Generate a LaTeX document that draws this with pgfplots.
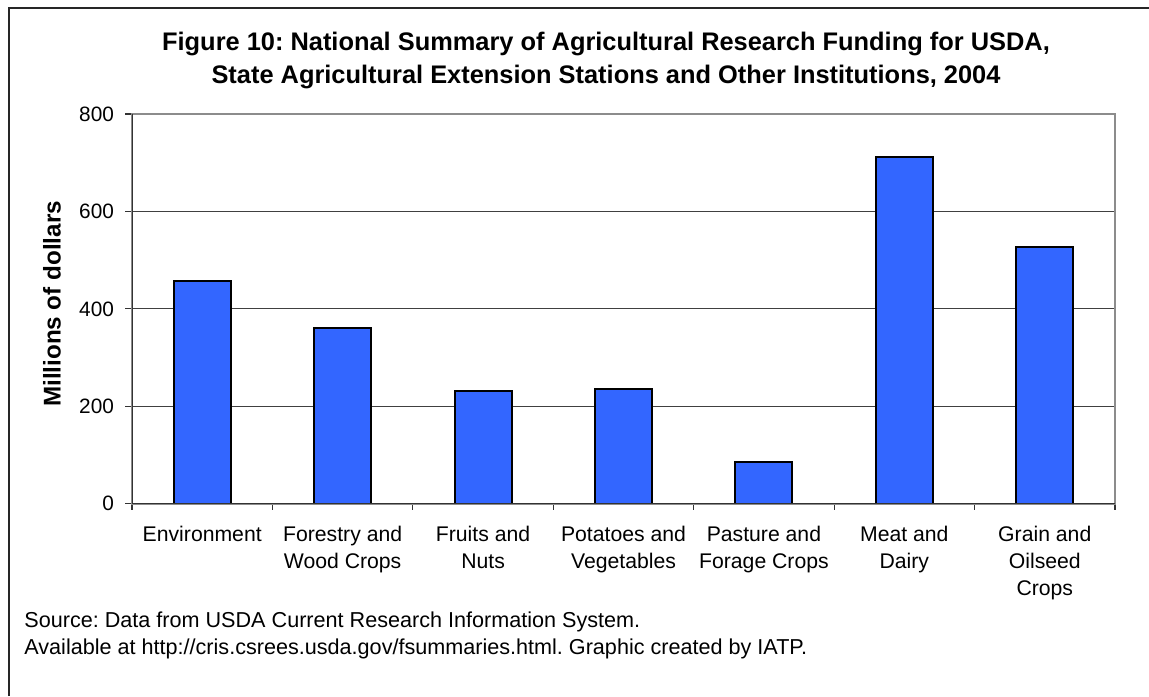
\documentclass[border=0pt]{standalone}
\usepackage{fontspec}
\setmainfont{Liberation Sans}
\usepackage{pgfplots}
\pgfplotsset{compat=1.18}
\definecolor{barblue}{HTML}{3366FF}
\definecolor{boxgray}{HTML}{8C8C8C}
\frenchspacing

\begin{document}
\begin{tikzpicture}[x=0.5pt,y=0.5pt]
% canvas measured in half points: 1149 x 696
\path[use as bounding box] (0,0) rectangle (1149,696);
\draw[line width=0.9pt, black!85] (9,0) -- (9,688) -- (1149,688);

\node[font=\fontsize{12.7}{16.5}\selectfont\bfseries, align=center]
  at (606,635.5) {Figure 10: National Summary of Agricultural Research Funding for USDA,\\
  State Agricultural Extension Stations and Other Institutions, 2004};

\node[font=\fontsize{12.1}{14}\selectfont\bfseries, rotate=90] at (52,392) {Millions of dollars};

\node[font=\fontsize{10.8}{13.4}\selectfont, align=left, anchor=west, inner sep=0pt] at (24,60.5)
  {Source: Data from USDA Current Research Information System.\\
   Available at http://cris.csrees.usda.gov/fsummaries.html. Graphic created by IATP.};

\begin{axis}[
  at={(66pt,96.15pt)}, anchor=south west,
  scale only axis, width=491.5pt, height=194.85pt,
  xmin=-0.5, xmax=6.5, ymin=0, ymax=800,
  ytick={0,200,...,800},
  xtick={0,...,6},
  xticklabels={Environment,
    Forestry and\\Wood Crops,
    Fruits and\\Nuts,
    Potatoes and\\Vegetables,
    Pasture and\\Forage Crops,
    Meat and\\Dairy,
    Grain and\\Oilseed\\Crops},
  minor xtick={-0.5,0.5,...,6.5},
  major x tick style={draw=none},
  tick align=outside, tick pos=left,
  major tick length=3.5pt, minor tick length=3pt,
  tick style={black!80, line width=0.6pt},
  ymajorgrids, grid style={black!75, line width=0.45pt},
  axis line style={boxgray, line width=1pt},
  xticklabel style={align=center, font=\fontsize{10.6}{13.5}\selectfont, yshift=-4.3pt},
  yticklabel style={font=\fontsize{10.4}{13}\selectfont, xshift=-2pt},
  /pgf/number format/assume math mode=true,
  ybar, bar width=28.5pt,
]
\addplot[fill=barblue, draw=black, line width=1pt] coordinates {
  (0,458) (1,361) (2,232) (3,236) (4,85) (5,712) (6,526)
};
\draw[black!80, line width=1pt] (rel axis cs:0,1) -- (rel axis cs:0,0) -- (rel axis cs:1,0);
\end{axis}
\end{tikzpicture}
\end{document}
